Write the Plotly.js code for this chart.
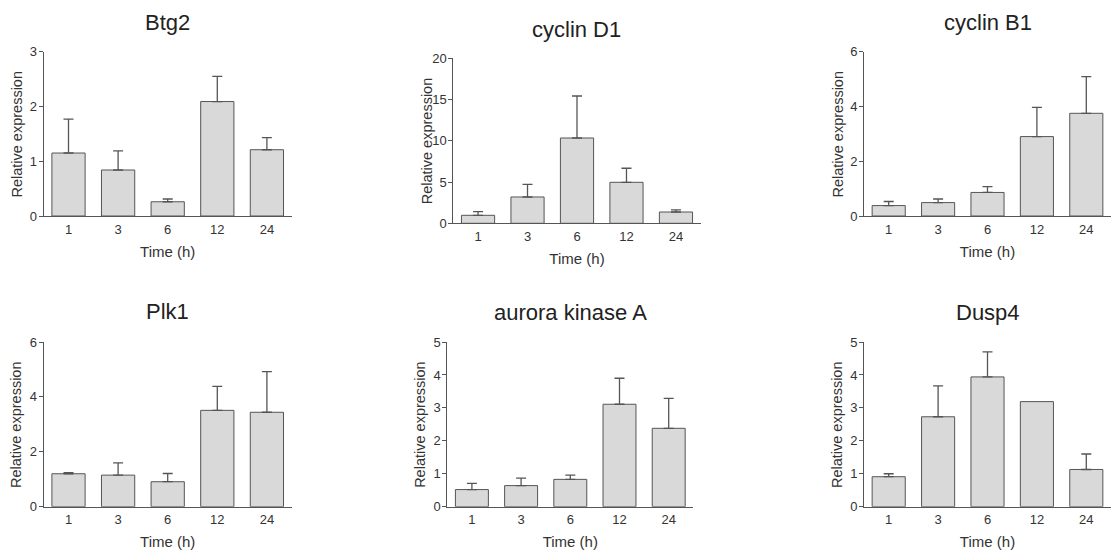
<!DOCTYPE html>
<html>
<head>
<meta charset="utf-8">
<script src="https://cdn.plot.ly/plotly-3.0.1.min.js"></script>
<style>html,body{margin:0;padding:0;background:#fff;}#chart{width:1111px;height:553px;}</style>
</head>
<body>
<div id="chart"></div>
<script>
const times = ["1", "3", "6", "12", "24"];
const titles = ["Btg2", "cyclin D1", "cyclin B1", "Plk1", "aurora kinase A", "Dusp4"];
const btg2 = [1.15, 0.84, 0.26, 2.09, 1.21];
const btg2Err = [0.62, 0.35, 0.05, 0.46, 0.22];
const cyclinD1 = [0.97, 3.19, 10.34, 4.97, 1.37];
const cyclinD1Err = [0.44, 1.54, 5.09, 1.70, 0.25];
const cyclinB1 = [0.38, 0.49, 0.86, 2.90, 3.75];
const cyclinB1Err = [0.15, 0.13, 0.21, 1.07, 1.34];
const plk1 = [1.20, 1.15, 0.91, 3.51, 3.44];
const plk1Err = [0.04, 0.45, 0.30, 0.87, 1.48];
const auroraA = [0.52, 0.64, 0.83, 3.11, 2.38];
const auroraAErr = [0.19, 0.23, 0.13, 0.79, 0.91];
const dusp4 = [0.91, 2.73, 3.94, 3.19, 1.13];
const dusp4Err = [0.09, 0.94, 0.76, null, 0.47];
const yMax = [3, 20, 6, 6, 5, 5];
const yStep = [1, 5, 2, 2, 1, 1];

const values = [btg2, cyclinD1, cyclinB1, plk1, auroraA, dusp4];
const errors = [btg2Err, cyclinD1Err, cyclinB1Err, plk1Err, auroraAErr, dusp4Err];

const W = 1111, H = 553;
// panel pixel boxes: [x0, x1, yTop, yBottom]
const boxes = [
  [43.7, 291.7, 51.7, 216],
  [453.3, 700.7, 58.3, 223.3],
  [864, 1111, 51.7, 216],
  [43.7, 291.7, 342, 506.7],
  [447.3, 693.3, 342, 506.7],
  [864, 1111, 342, 506.7]
];
const titleY = [22.7, 29.3, 22.7, 311, 312, 312];
const yTitleX = [16.7, 426.5, 837.7, 16.7, 420.5, 837.7];

const FONT = "Liberation Sans, Arial, Helvetica, sans-serif";
const axisColor = "#555";
const textColor = "#333";

const data = [];
const layout = {
  width: W, height: H,
  margin: {l: 0, r: 0, t: 0, b: 0},
  paper_bgcolor: "#fff", plot_bgcolor: "#fff",
  showlegend: false,
  font: {family: FONT, color: textColor},
  annotations: []
};

for (let i = 0; i < 6; i++) {
  const n = i === 0 ? "" : String(i + 1);
  const b = boxes[i];
  data.push({
    type: "bar",
    x: times,
    y: values[i],
    xaxis: "x" + n,
    yaxis: "y" + n,
    width: 0.67,
    marker: {color: "#d9d9d9", line: {color: axisColor, width: 1}},
    error_y: {
      type: "data", symmetric: false,
      array: errors[i].map(v => (v === null ? NaN : v)),
      arrayminus: errors[i].map(v => (v === null ? NaN : 0)),
      color: axisColor, thickness: 1.3, width: 5, visible: true
    },
    hoverinfo: "none"
  });
  layout["xaxis" + n] = {
    type: "category",
    domain: [b[0] / W, b[1] / W],
    anchor: "y" + n,
    range: [-0.5, 4.5],
    showline: true, linecolor: axisColor, linewidth: 1,
    ticks: "", showgrid: false, zeroline: false,
    ticklabelstandoff: 1,
    tickfont: {size: 13, color: textColor, family: FONT},
    title: {text: "Time (h)", font: {size: 15, color: textColor, family: FONT}, standoff: 10},
    fixedrange: true
  };
  layout["yaxis" + n] = {
    domain: [1 - b[3] / H, 1 - b[2] / H],
    anchor: "x" + n,
    range: [0, yMax[i]],
    dtick: yStep[i], tick0: 0,
    showline: true, linecolor: axisColor, linewidth: 1,
    ticks: "outside", ticklen: 4, tickcolor: axisColor, tickwidth: 1,
    ticklabelstandoff: -1,
    showgrid: false, zeroline: false,
    tickfont: {size: 13, color: textColor, family: FONT},
    fixedrange: true
  };
  layout.annotations.push({
    text: titles[i],
    xref: "paper", yref: "paper",
    x: (b[0] + b[1]) / 2 / W,
    y: 1 - titleY[i] / H,
    xanchor: "center", yanchor: "middle",
    showarrow: false,
    font: {size: 22, color: "#222", family: FONT}
  });
  layout.annotations.push({
    text: "Relative expression",
    xref: "paper", yref: "paper",
    x: yTitleX[i] / W,
    y: 1 - (b[2] + b[3]) / 2 / H,
    xanchor: "center", yanchor: "middle",
    textangle: -90,
    showarrow: false,
    font: {size: 14.5, color: textColor, family: FONT}
  });
}

Plotly.newPlot("chart", data, layout, {displayModeBar: false, staticPlot: true});
</script>
</body>
</html>
